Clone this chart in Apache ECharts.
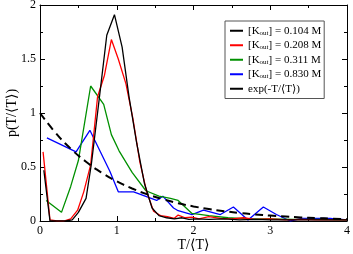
<!DOCTYPE html>
<html><head><meta charset="utf-8">
<script src="https://cdn.jsdelivr.net/npm/echarts@6/dist/echarts.min.js"></script>
<style>html,body{margin:0;padding:0;background:#fff}#c{width:353px;height:254px}</style>
</head><body><div id="c"></div>
<script>
var seriesNames = ['[K_out] = 0.104 M', '[K_out] = 0.208 M', '[K_out] = 0.311 M', '[K_out] = 0.830 M', 'exp(-T/⟨T⟩)'];
var seriesColors = ['#000000', '#ff0000', '#009000', '#0000ff', '#000000'];
var xTickLabels = ['0', '1', '2', '3', '4'];
var yTickLabels = ['0', '0.5', '1', '1.5', '2'];

var data104 = [[0.05,0.47],[0.13,0.0],[0.23,0.0],[0.33,0.0],[0.42,0.01],[0.5,0.08],[0.6,0.21],[0.67,0.53],[0.77,1.12],[0.87,1.72],[0.97,1.91],[1.07,1.61],[1.16,1.15],[1.26,0.72],[1.36,0.35],[1.46,0.12],[1.55,0.05],[1.65,0.03],[1.75,0.02],[1.85,0.03],[1.94,0.015],[2.04,0.02],[2.2,0.015],[2.4,0.02],[2.6,0.01],[2.8,0.015],[3.0,0.01],[3.2,0.01],[3.4,0.01],[3.6,0.01],[3.8,0.01],[4.0,0.01]];
var data208 = [[0.04,0.64],[0.13,0.01],[0.22,0.0],[0.31,0.0],[0.40,0.02],[0.49,0.1],[0.57,0.27],[0.66,0.52],[0.75,1.15],[0.84,1.35],[0.93,1.68],[1.02,1.5],[1.12,1.27],[1.21,0.95],[1.3,0.55],[1.39,0.27],[1.48,0.09],[1.57,0.05],[1.66,0.04],[1.75,0.025],[1.8,0.055],[1.89,0.03],[1.98,0.035],[2.07,0.02],[2.2,0.04],[2.35,0.025],[2.5,0.02],[2.65,0.03],[2.8,0.015],[3.0,0.02],[3.2,0.01],[3.4,0.015],[3.6,0.01],[3.8,0.01],[4.0,0.01]];
var data311 = [[0.08,0.19],[0.28,0.08],[0.40,0.32],[0.50,0.56],[0.66,1.25],[0.83,1.08],[0.93,0.8],[1.03,0.65],[1.2,0.45],[1.38,0.28],[1.55,0.23],[1.7,0.21],[1.8,0.19],[1.98,0.07],[2.2,0.05],[2.45,0.03],[2.7,0.02],[3.0,0.02],[3.3,0.015],[3.6,0.015],[4.0,0.01]];
var data830 = [[0.09,0.77],[0.47,0.64],[0.65,0.84],[0.91,0.46],[1.02,0.27],[1.22,0.27],[1.52,0.19],[1.6,0.23],[1.74,0.12],[1.8,0.095],[1.98,0.06],[2.13,0.1],[2.35,0.06],[2.52,0.13],[2.71,0.01],[2.91,0.13],[3.08,0.06],[3.26,0.0],[3.41,0.025],[3.78,0.025],[4.0,0.01]];
var dataExp = [[0,1],[0.2,0.819],[0.4,0.670],[0.6,0.549],[0.8,0.449],[1.0,0.368],[1.2,0.301],[1.4,0.247],[1.6,0.202],[1.8,0.165],[2.0,0.135],[2.2,0.111],[2.4,0.091],[2.6,0.074],[2.8,0.061],[3.0,0.050],[3.2,0.041],[3.4,0.033],[3.6,0.027],[3.8,0.022],[4.0,0.018]];
var allData = [data104, data208, data311, data830, dataExp];

var font = '"Liberation Serif", "DejaVu Serif", serif';
var chart = echarts.init(document.getElementById('c'), null, {renderer: 'canvas'});

function mkAxis(type, pos, labels, show, minMax, interval) {
  return {
    type: 'value', position: pos, min: minMax[0], max: minMax[1], interval: interval,
    axisLine: {show: true, onZero: false, lineStyle: {color: '#000', width: 1}},
    axisTick: {show: true, inside: true, length: 5, lineStyle: {color: '#000'}},
    minorTick: {show: true, splitNumber: 2, length: 3, lineStyle: {color: '#000'}},
    splitLine: {show: false}, minorSplitLine: {show: false},
    axisLabel: show ? {show: true, color: '#000', fontFamily: font, fontSize: 12, margin: 4,
      formatter: function (v) { var i = Math.round(v / interval); return labels[i] !== undefined ? labels[i] : ''; }} : {show: false}
  };
}

var xMain = mkAxis('x', 'bottom', xTickLabels, true, [0, 4], 1);
xMain.name = 'T/⟨T⟩'; xMain.nameLocation = 'middle'; xMain.nameGap = 17; xMain.nameMoveOverlap = false;
xMain.nameTextStyle = {fontFamily: font, fontSize: 14, color: '#000'};
var yMain = mkAxis('y', 'left', yTickLabels, true, [0, 2], 0.5);
yMain.name = 'p(T/⟨T⟩)'; yMain.nameLocation = 'middle'; yMain.nameGap = 21; yMain.nameMoveOverlap = false;
yMain.nameTextStyle = {fontFamily: font, fontSize: 14, color: '#000'};
var xTop = mkAxis('x', 'top', xTickLabels, false, [0, 4], 1);
var yRight = mkAxis('y', 'right', yTickLabels, false, [0, 2], 0.5);

var series = allData.map(function (d, i) {
  return {
    name: seriesNames[i], type: 'line', data: d, xAxisIndex: 0, yAxisIndex: 0,
    showSymbol: false, symbol: 'none', smooth: i === 4, animation: false, z: i === 4 ? 10 : 5 - i,
    lineStyle: {color: seriesColors[i], width: i === 4 ? 2 : 1.3, type: i === 4 ? [8, 5] : 'solid'},
    itemStyle: {color: seriesColors[i]}
  };
});

chart.setOption({
  animation: false,
  grid: {left: 40, top: 5, right: 6, bottom: 33, containLabel: false, outerBoundsMode: 'none'},
  xAxis: [xMain, xTop],
  yAxis: [yMain, yRight],
  legend: {
    orient: 'vertical', left: 225, top: 21, width: 98,
    padding: [4, 3, 4, 5], itemGap: 3, itemWidth: 13, itemHeight: 2,
    backgroundColor: '#fff', borderColor: '#555', borderWidth: 1,
    icon: 'rect',
    data: seriesNames,
    formatter: function (n) { return n.replace('K_out', 'K{sub|out}'); },
    textStyle: {fontFamily: font, fontSize: 11, color: '#000', lineHeight: 11.5,
      rich: {sub: {fontFamily: font, fontSize: 7, color: '#000', verticalAlign: 'bottom', padding: [5, 0, 0, 0]}}}
  },
  series: series
});
</script></body></html>
